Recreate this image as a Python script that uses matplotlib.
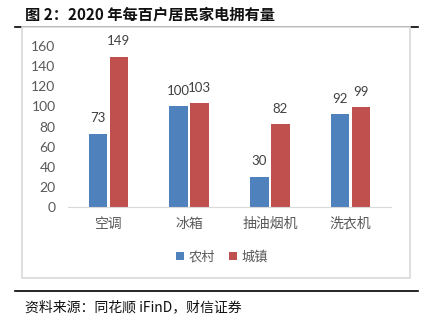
import matplotlib.pyplot as plt
import numpy as np
from matplotlib.lines import Line2D
from matplotlib.patches import Rectangle

plt.rcParams['font.family'] = ['Noto Sans CJK SC', 'DejaVu Sans']
num_font = ['Lato', 'DejaVu Sans']

categories = ["空调", "冰箱", "抽油烟机", "洗衣机"]
rural = [73, 100, 30, 92]
urban = [149, 103, 82, 99]
series_names = ["农村", "城镇"]
yticks = [0, 20, 40, 60, 80, 100, 120, 140, 160]

W, H = 421, 333
fig = plt.figure(figsize=(W / 100, H / 100), dpi=100)

def fx(px):
    return px / W

def fy(py):
    return 1 - py / H

# Title and frame lines
fig.text(fx(25), fy(15), "图 2：2020 年每百户居民家电拥有量", fontsize=11,
         fontweight='bold', va='center', ha='left', color='#111111')
fig.add_artist(Line2D([fx(15), fx(418)], [fy(27), fy(27)], color='black', lw=1.2, zorder=-2))
fig.add_artist(Rectangle((fx(22), fy(278)), fx(410) - fx(22), fy(27) - fy(278),
                         facecolor='white', edgecolor='#D9D9D9', lw=1.2, zorder=-1))
fig.add_artist(Line2D([fx(15), fx(418)], [fy(291), fy(291)], color='black', lw=1.2))
fig.text(fx(25), fy(307), "资料来源：同花顺 iFinD，财信证券", fontsize=10,
         style='italic', va='center', ha='left', color='#111111')

# Plot area
ax = fig.add_axes([fx(68), fy(207), fx(391) - fx(68), fy(46) - fy(207)], zorder=2)
ax.patch.set_alpha(0)
x = np.arange(len(categories))
bw = 0.23
gap = 0.03
b1 = ax.bar(x - (bw + gap) / 2, rural, bw, color='#4F81BD', label=series_names[0])
b2 = ax.bar(x + (bw + gap) / 2, urban, bw, color='#C0504D', label=series_names[1])
for bars in (b1, b2):
    ax.bar_label(bars, padding=7, fontsize=9.5, color='#404040', family=num_font)

ax.set_xlim(-0.5, len(categories) - 0.5)
ax.set_ylim(0, 160)
ax.set_yticks(yticks)
ax.set_yticklabels([str(v) for v in yticks], family=num_font, fontsize=10, color='#595959')
ax.set_xticks(x)
ax.set_xticklabels(categories, fontsize=10, color='#595959')
ax.tick_params(axis='y', length=0, pad=9)
ax.tick_params(axis='x', length=0, pad=7)
for s in ['top', 'right', 'left']:
    ax.spines[s].set_visible(False)
ax.spines['bottom'].set_color('#D9D9D9')

fig.legend(handles=[b1, b2], loc='center', bbox_to_anchor=(fx(222), fy(257)),
           ncol=2, frameon=False, fontsize=9.5, handlelength=0.6, handleheight=0.6,
           handletextpad=0.4, columnspacing=1.0, labelcolor='#595959')

fig.savefig("out.png", dpi=100)
